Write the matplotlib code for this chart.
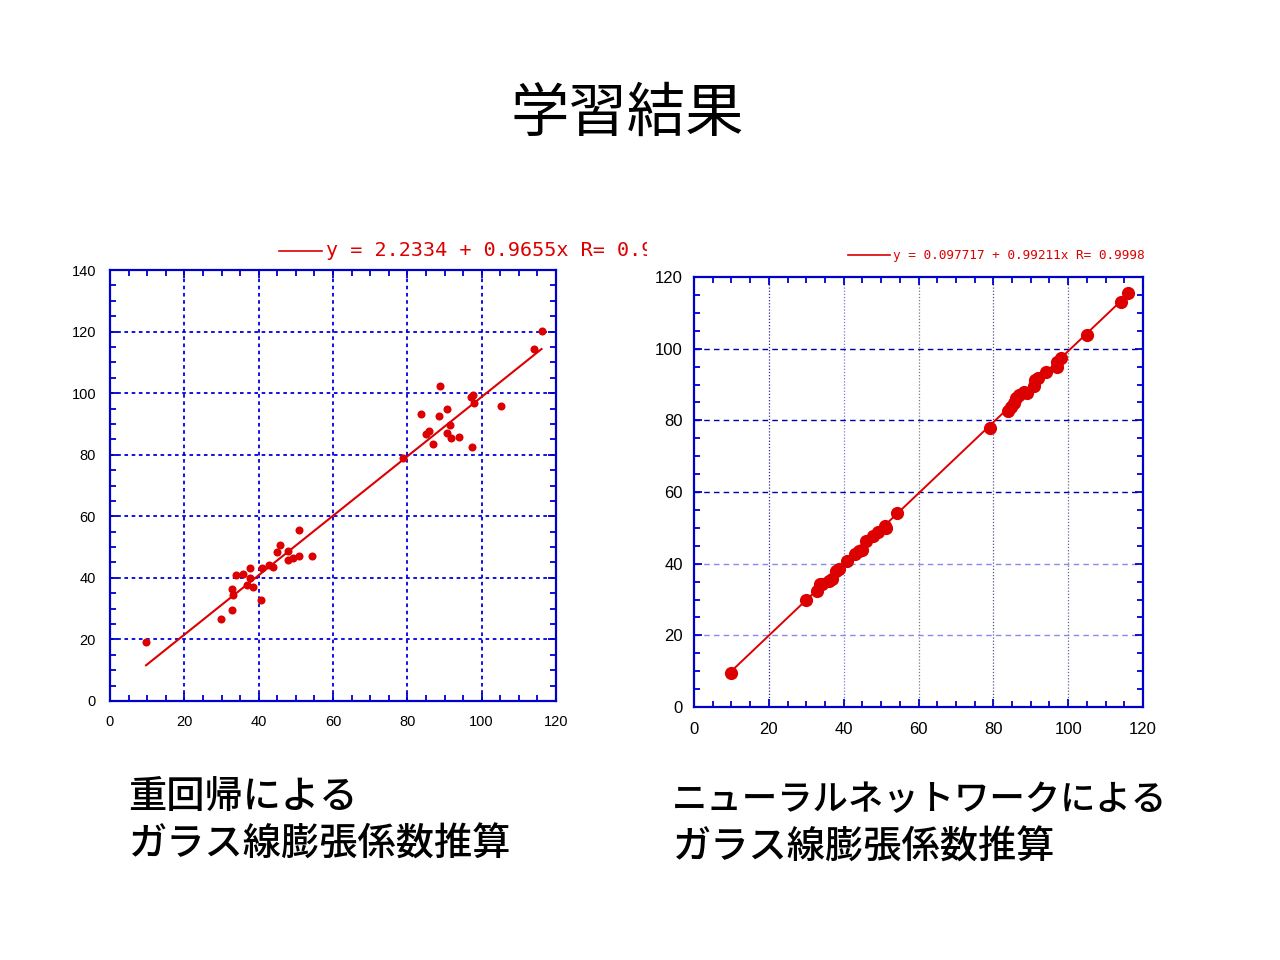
import numpy as np
import matplotlib
matplotlib.use("Agg")
import matplotlib.pyplot as plt
from matplotlib import font_manager
from matplotlib.lines import Line2D
from matplotlib.ticker import MultipleLocator
from matplotlib.transforms import Bbox, TransformedBbox

# ========= DATA =========
TITLE = "学習結果"
LEFT_CAPTION = ["重回帰による", "ガラス線膨張係数推算"]
RIGHT_CAPTION = ["ニューラルネットワークによる", "ガラス線膨張係数推算"]

# multiple regression: measured (x) vs estimated (y)
mr_x = [9.7, 29.8, 32.7, 32.7, 33.2, 33.8, 35.8, 37.8, 37.8, 36.8, 38.4, 40.7,
        40.8, 42.9, 43.8, 44.8, 45.8, 47.8, 47.8, 49.3, 50.8, 50.8, 54.4, 78.9,
        83.8, 84.9, 85.9, 86.8, 88.5, 88.9, 90.8, 90.8, 91.5, 91.8, 93.9, 97.0,
        97.6, 97.9, 97.5, 105.1, 114.1, 116.1]
mr_y = [19.2, 26.7, 29.6, 36.5, 34.4, 40.9, 41.1, 43.1, 40.1, 37.7, 37.1, 32.8,
        43.1, 44.3, 43.4, 48.5, 50.7, 48.7, 45.8, 46.5, 47.0, 55.5, 47.0, 79.0,
        93.1, 86.7, 87.7, 83.5, 92.6, 102.2, 94.8, 87.2, 89.7, 85.5, 85.7, 98.8,
        99.5, 96.7, 82.5, 95.8, 114.3, 120.3]
MR_B0, MR_B1 = 2.2334, 0.9655
MR_LEGEND = "y = 2.2334 + 0.9655x R= 0.96"

# neural network: measured (x) vs estimated (y)
nn_x = [10.0, 29.8, 33.0, 33.6, 34.2, 36.1, 37.0, 38.0, 38.7, 41.0, 43.1, 44.0,
        45.0, 46.1, 47.8, 49.2, 51.0, 51.2, 54.3, 79.0, 83.9, 84.6, 85.4, 86.1,
        86.9, 88.2, 89.1, 91.0, 91.2, 91.9, 94.0, 97.1, 97.0, 98.2, 105.0, 114.0,
        116.0]
nn_y = [9.5, 29.9, 32.5, 34.2, 34.4, 35.1, 35.7, 37.9, 38.5, 40.8, 42.8, 43.4,
        43.9, 46.2, 47.8, 48.7, 50.4, 49.9, 54.1, 78.0, 82.6, 83.8, 84.9, 86.1,
        87.1, 88.0, 87.5, 89.6, 91.2, 91.9, 93.5, 94.8, 96.3, 97.3, 103.9, 113.0,
        115.6]
NN_B0, NN_B1 = 0.097717, 0.99211
NN_LEGEND = "y = 0.097717 + 0.99211x R= 0.9998"

# ========= STYLE =========
RED = "#dd0000"
BLUE = "#0000cc"
JP_FONT = ["Noto Sans CJK JP", "DejaVu Sans"]
MONO_FONT = ["DejaVu Sans Mono"]

_names = {f.name for f in font_manager.fontManager.ttflist}
TICK_FONT = "Liberation Sans Narrow" if "Liberation Sans Narrow" in _names else "Liberation Sans"


def style_axes(ax, xmax, ymax, tick_size, ypad, xpad):
    ax.set_xlim(0, xmax)
    ax.set_ylim(0, ymax)
    ax.xaxis.set_major_locator(MultipleLocator(20))
    ax.yaxis.set_major_locator(MultipleLocator(20))
    ax.xaxis.set_minor_locator(MultipleLocator(5))
    ax.yaxis.set_minor_locator(MultipleLocator(5))
    for s in ax.spines.values():
        s.set_color(BLUE)
        s.set_linewidth(1.6)
    ax.tick_params(which="both", direction="in", top=True, right=True,
                   color=BLUE, width=1.3)
    ax.tick_params(which="major", length=6)
    ax.tick_params(which="minor", length=4)
    ax.tick_params(axis="y", pad=ypad)
    ax.tick_params(axis="x", pad=xpad)
    for lab in ax.get_xticklabels() + ax.get_yticklabels():
        lab.set_fontfamily(TICK_FONT)
        lab.set_fontsize(tick_size)
    ax.set_axisbelow(True)


fig = plt.figure(figsize=(12.8, 9.6), dpi=100)
fig.patch.set_facecolor("white")

# ---- left: multiple regression ----
ax1 = fig.add_axes([110 / 1280, 1 - 701 / 960, 446 / 1280, 431 / 960])
ax1.grid(True, which="major", color="#0000dd", linestyle=(0, (2, 2)), linewidth=1.3)
ax1.plot(mr_x, mr_y, "o", color=RED, ms=5.8, mew=0)
xl = np.array([min(mr_x), max(mr_x)])
ax1.plot(xl, MR_B0 + MR_B1 * xl, color=RED, lw=1.5)
style_axes(ax1, 120, 140, 10.5, 10, 10)

# ---- right: neural network ----
ax2 = fig.add_axes([694 / 1280, 1 - 707 / 960, 449 / 1280, 430 / 960])
vcolors = ["#2a2a99", "#7777dd", "#777788", "#555588", "#666688"]
for v, c in zip(range(20, 120, 20), vcolors):
    ax2.axvline(v, color=c, linestyle=(0, (1, 1.5)), lw=0.9, zorder=0)
hcolors = ["#8888ee", "#8888ee", "#0000aa", "#0000aa", "#0000aa"]
for h, c in zip(range(20, 120, 20), hcolors):
    ax2.axhline(h, color=c, linestyle=(0, (4, 3)), lw=1.0, zorder=0)
xl2 = np.array([min(nn_x), max(nn_x)])
ax2.plot(xl2, NN_B0 + NN_B1 * xl2, color=RED, lw=1.4)
ax2.plot(nn_x, nn_y, "o", color=RED, ms=9.5, mew=0)
style_axes(ax2, 120, 120, 12, 8, 11)

# ---- legend-like equations ----
fig.add_artist(Line2D([279 / 1280, 322 / 1280], [1 - 251 / 960] * 2,
                      transform=fig.transFigure, color=RED, lw=1.2))
t1 = fig.text(326 / 1280, 1 - 251 / 960, MR_LEGEND, color=RED, fontsize=14.5,
              family=MONO_FONT, va="center", ha="left")
t1.set_clip_on(True)
t1.set_clip_box(TransformedBbox(Bbox.from_extents(0, 0, 647 / 1280, 1), fig.transFigure))

fig.add_artist(Line2D([848 / 1280, 890 / 1280], [1 - 255 / 960] * 2,
                      transform=fig.transFigure, color=RED, lw=1.2))
fig.text(893 / 1280, 1 - 255 / 960, NN_LEGEND, color=RED, fontsize=9.2,
         family=MONO_FONT, va="center", ha="left")

# ---- title and captions ----
fig.text(627 / 1280, 1 - 114 / 960, TITLE, fontsize=42, family=JP_FONT,
         ha="center", va="center")
for i, line in enumerate(LEFT_CAPTION):
    fig.text(128 / 1280, 1 - (797 + 48 * i) / 960, line, fontsize=27.5,
             family=JP_FONT, weight="medium", ha="left", va="center")
right_sizes = [25.5, 27.5]
for i, line in enumerate(RIGHT_CAPTION):
    fig.text(672 / 1280, 1 - (800 + 48 * i) / 960, line, fontsize=right_sizes[i],
             family=JP_FONT, weight="medium", ha="left", va="center")

fig.savefig("out.png", dpi=100)
